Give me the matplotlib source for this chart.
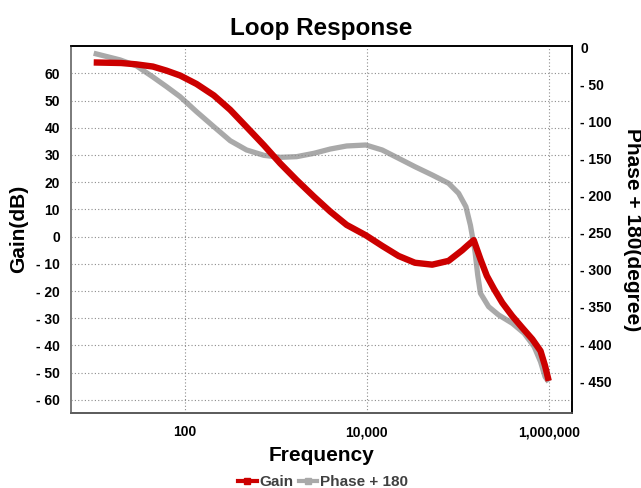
import matplotlib
matplotlib.use("Agg")
import matplotlib.pyplot as plt
from matplotlib.ticker import FixedLocator, FixedFormatter, NullLocator
from matplotlib.lines import Line2D

plt.rcParams['font.family'] = ['Liberation Sans', 'DejaVu Sans']
plt.rcParams['font.weight'] = 'bold'

# ---- data ----
gain_freq = [10, 20, 29.5, 44.7, 63.1, 89.1, 134.9, 208.9, 316.2, 478.6, 741.3, 1122,
             1698, 2630, 3981, 6026, 9772, 14791, 22387, 33884, 52481, 79433,
             112202, 128825, 150000, 177828, 208930, 251189, 309030, 398107,
             512861, 660693, 812831, 912011, 1000000]
gain_db = [64.0, 63.8, 63.3, 62.5, 61.0, 59.2, 56.1, 51.9, 46.6, 40.3, 33.6, 26.9,
           20.8, 14.7, 9.2, 4.3, 0.5, -3.4, -7.1, -9.6, -10.3, -8.9,
           -5.0, -3.2, -1.3, -8.3, -14.4, -19.3, -24.3, -29.2,
           -33.5, -37.7, -42.0, -47.5, -53.0]

phase_freq = [10, 19.5, 29.5, 44.7, 63.1, 89.1, 134.9, 208.9, 316.2, 478.6, 741.3, 1122,
              1698, 2630, 3981, 6026, 9772, 14791, 22387, 33884, 52481, 79433,
              102329, 123027, 138038, 154882, 165959, 177828, 218776, 281838,
              398107, 537032, 691831, 812831, 912011, 1000000]
phase_deg = [-8, -17, -25, -40, -53, -66.6, -86.8, -107, -125.9, -138.4, -145.6, -148.3,
             -147.4, -142.9, -137.1, -133, -131.7, -138.4, -149.6, -160.9, -172.1, -183.3,
             -196.8, -214.8, -240, -275, -307, -331.5, -349.6, -360.8,
             -372, -385.4, -403.5, -423.7, -444, -451]

x_ticks = [100, 10000, 1000000]
x_tick_labels = ["100", "10,000", "1,000,000"]
gain_ticks = [60, 50, 40, 30, 20, 10, 0, -10, -20, -30, -40, -50, -60]
gain_tick_labels = ["60", "50", "40", "30", "20", "10", "0", "- 10", "- 20", "- 30",
                    "- 40", "- 50", "- 60"]
phase_ticks = [0, -50, -100, -150, -200, -250, -300, -350, -400, -450]
phase_tick_labels = ["0", "- 50", "- 100", "- 150", "- 200", "- 250", "- 300",
                     "- 350", "- 400", "- 450"]

RED = "#CC0000"
GRAY = "#A9A9A9"

fig = plt.figure(figsize=(6.41, 4.88), dpi=100)
ax = fig.add_axes([71 / 641, (488 - 412.7) / 488, (572 - 71) / 641, (412.7 - 46) / 488])
ax2 = ax.twinx()

ax2.plot(phase_freq, phase_deg, color=GRAY, lw=3.8, solid_capstyle='butt',
         solid_joinstyle='round')
ax.plot(gain_freq, gain_db, color=RED, lw=4.6, solid_capstyle='butt',
        solid_joinstyle='round')

ax.set_zorder(ax2.get_zorder() + 1)
ax.patch.set_visible(False)

ax.set_xscale('log')
ax.set_xlim(10 ** 0.7505, 10 ** 6.256)
ax.set_ylim(-64.7, 70.05)
ax2.set_ylim(-492.5, 1.75)

ax.xaxis.set_major_locator(FixedLocator(x_ticks))
ax.xaxis.set_major_formatter(FixedFormatter(x_tick_labels))
ax.xaxis.set_minor_locator(NullLocator())
ax.yaxis.set_major_locator(FixedLocator(gain_ticks))
ax.yaxis.set_major_formatter(FixedFormatter(gain_tick_labels))
ax2.yaxis.set_major_locator(FixedLocator(phase_ticks))
ax2.yaxis.set_major_formatter(FixedFormatter(phase_tick_labels))

ax.tick_params(axis='x', length=0, pad=9, labelsize=10)
ax.tick_params(axis='y', length=0, pad=8, labelsize=10)
ax2.tick_params(axis='y', length=0, pad=6, labelsize=10)
for lab in ax.get_xticklabels() + ax.get_yticklabels() + ax2.get_yticklabels():
    lab.set_fontweight('bold')

ax.grid(True, which='major', color='#8c8c8c', linestyle=(0, (1, 2)), lw=0.8)

for a in (ax, ax2):
    a.spines['top'].set_color('black')
    a.spines['right'].set_color('black')
    a.spines['left'].set_color('#7a7a7a')
    a.spines['bottom'].set_color('#5a5a5a')
    for s in a.spines.values():
        s.set_linewidth(1.2)

ax.set_title("Loop Response", fontsize=17.5, fontweight='bold', pad=8)
ax.set_xlabel("Frequency", fontsize=15, fontweight='bold', labelpad=5)
ax.set_ylabel("Gain(dB)", fontsize=15, fontweight='bold', labelpad=6)
ax2.set_ylabel("Phase + 180(degree)", fontsize=15, fontweight='bold',
               rotation=270, va='bottom', labelpad=8)

handles = [Line2D([], [], color=RED, lw=3, marker='s', markersize=5),
           Line2D([], [], color=GRAY, lw=3, marker='s', markersize=5)]
leg = fig.legend(handles, ["Gain", "Phase + 180"], loc='center',
                 bbox_to_anchor=(323 / 641, 1 - 482 / 488), ncol=2, frameon=False,
                 prop={'size': 11, 'weight': 'bold'}, handlelength=1.2,
                 handletextpad=0.15, columnspacing=0.4, borderpad=0)
for t in leg.get_texts():
    t.set_color('#404040')

fig.savefig("out.png", dpi=100)
